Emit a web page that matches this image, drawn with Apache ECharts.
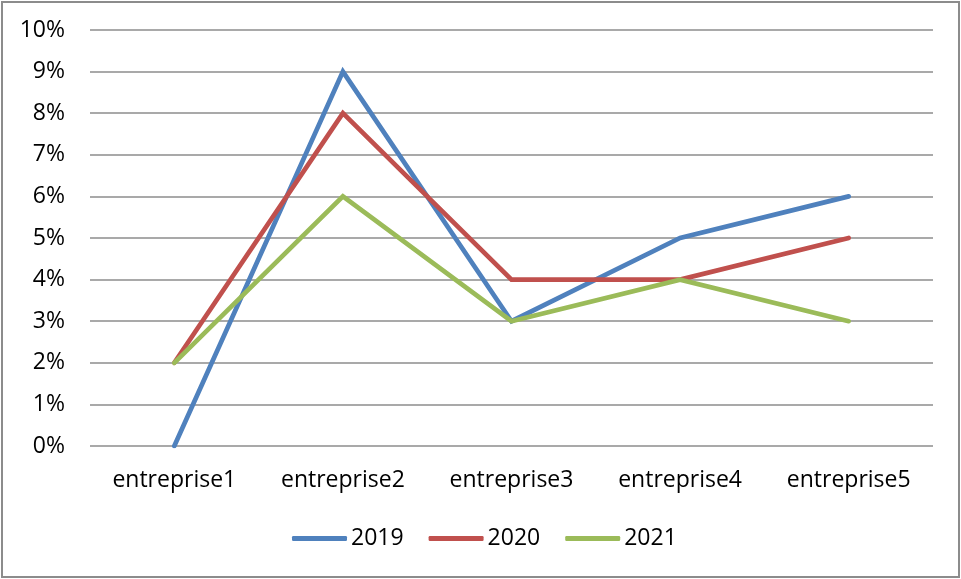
<!DOCTYPE html>
<html>
<head>
<meta charset="utf-8">
<script src="https://cdn.jsdelivr.net/npm/echarts@6/dist/echarts.min.js"></script>
<style>
  html, body { margin: 0; padding: 0; background: #fff; }
  #frame { position: absolute; left: 1px; top: 1px; width: 955px; height: 573px; border: 2px solid #8c8c8c; }
  #chart { position: absolute; left: 0; top: 0; width: 961px; height: 579px; }
</style>
</head>
<body>
<div id="frame"></div>
<div id="chart"></div>
<script>
const categories = ['entreprise1', 'entreprise2', 'entreprise3', 'entreprise4', 'entreprise5'];
const values2019 = [0, 9, 3, 5, 6];
const values2020 = [2, 8, 4, 4, 5];
const values2021 = [2, 6, 3, 4, 3];
const seriesNames = ['2019', '2020', '2021'];
const seriesColors = ['#4f81bd', '#c0504d', '#9bbb59'];

const font = '"Open Sans", sans-serif';

function lineSeries(name, data, color) {
  return {
    name: name,
    type: 'line',
    data: data,
    symbol: 'none',
    lineStyle: { width: 4.7, color: color, cap: 'round', join: 'miter' },
    itemStyle: { color: color }
  };
}

const chart = echarts.init(document.getElementById('chart'), null, { renderer: 'canvas' });
chart.setOption({
  animation: false,
  backgroundColor: 'transparent',
  grid: { left: 90, right: 28, top: 30, bottom: 133 },
  legend: {
    top: 522,
    left: 287,
    itemWidth: 55,
    itemHeight: 5,
    itemGap: 25,
    icon: 'roundRect',
    textStyle: { fontFamily: font, fontSize: 23, color: '#000', padding: [0, 0, 0, -1] },
    data: seriesNames
  },
  xAxis: {
    type: 'category',
    data: categories,
    boundaryGap: true,
    axisLine: { show: false },
    axisTick: { show: false },
    axisLabel: { fontFamily: font, fontSize: 23, color: '#000', margin: 23 }
  },
  yAxis: {
    type: 'value',
    min: 0,
    max: 10,
    interval: 1,
    axisLine: { show: false },
    axisTick: { show: false },
    axisLabel: { fontFamily: font, fontSize: 23, color: '#000', margin: 25, formatter: '{value}%' },
    splitLine: { lineStyle: { color: '#8c8c8c', width: 1.5 } }
  },
  series: [
    lineSeries(seriesNames[0], values2019, seriesColors[0]),
    lineSeries(seriesNames[1], values2020, seriesColors[1]),
    lineSeries(seriesNames[2], values2021, seriesColors[2])
  ]
});
</script>
</body>
</html>
